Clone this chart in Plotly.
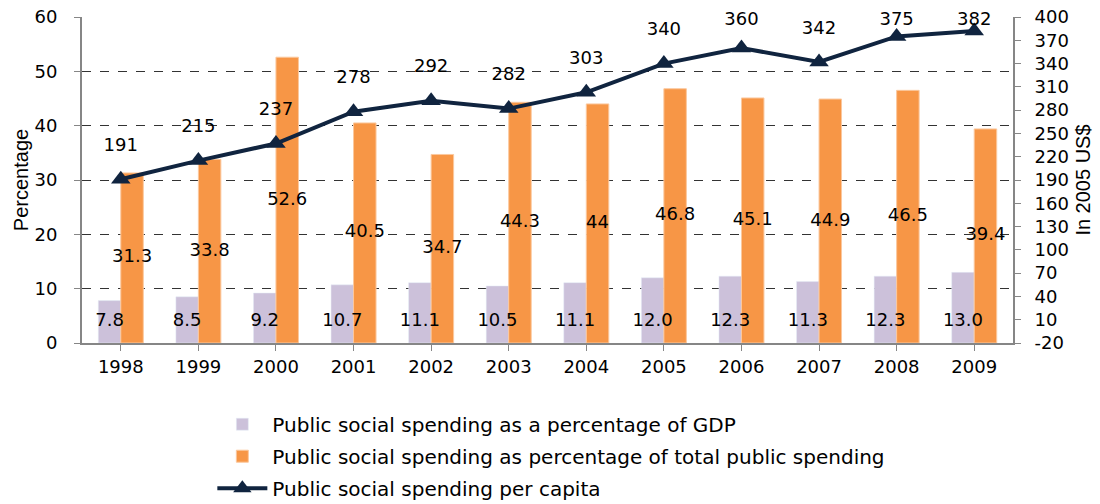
import plotly.graph_objects as go

years = [1998, 1999, 2000, 2001, 2002, 2003, 2004, 2005, 2006, 2007, 2008, 2009]
pct_gdp = [7.8, 8.5, 9.2, 10.7, 11.1, 10.5, 11.1, 12.0, 12.3, 11.3, 12.3, 13.0]
pct_total = [31.3, 33.8, 52.6, 40.5, 34.7, 44.3, 44, 46.8, 45.1, 44.9, 46.5, 39.4]
per_capita = [191, 215, 237, 278, 292, 282, 303, 340, 360, 342, 375, 382]

name_gdp = "Public social spending as a percentage of GDP"
name_total = "Public social spending as percentage of total public spending"
name_capita = "Public social spending per capita"

FONT = "DejaVu Sans, Liberation Sans, Arial, sans-serif"
TFONT = "Liberation Sans, Arial, sans-serif"
FS = 18
bargap = 0.42
half = (1 - bargap) / 4  # half width of one bar in the group

fig = go.Figure()
fig.add_trace(go.Bar(x=years, y=pct_gdp, name=name_gdp, marker_color="#CCC1DA",
                     legendgroup="a"))
fig.add_trace(go.Bar(x=years, y=pct_total, name=name_total, marker_color="#F79646",
                     marker_line=dict(color="#FBC89E", width=1), legendgroup="b"))
fig.add_trace(go.Scatter(x=years, y=per_capita, name=name_capita, yaxis="y2",
                         mode="lines+markers", legendgroup="c",
                         line=dict(color="#10243F", width=4),
                         marker=dict(symbol="triangle-up", size=17, color="#10243F")))

# data labels
lbl = dict(size=FS, color="black", family=FONT)
fig.add_trace(go.Scatter(x=[y - half for y in years], y=[3.9] * len(years),
                         mode="text", text=[f"{v:.1f}" for v in pct_gdp], textfont=lbl,
                         showlegend=False, hoverinfo="skip", cliponaxis=False))
fig.add_trace(go.Scatter(x=[y + half for y in years], y=[v / 2 for v in pct_total],
                         mode="text", text=[f"{v:g}" for v in pct_total], textfont=lbl,
                         showlegend=False, hoverinfo="skip", cliponaxis=False))
fig.add_trace(go.Scatter(x=years, y=[min(v + 42.5, 396) for v in per_capita], yaxis="y2",
                         mode="text", text=[str(v) for v in per_capita], textfont=lbl,
                         showlegend=False, hoverinfo="skip", cliponaxis=False))

axis_common = dict(showline=True, linecolor="#868686", linewidth=2,
                   ticks="outside", ticklen=6, tickcolor="#868686",
                   zeroline=False, automargin=False)

y2_ticks = list(range(-20, 401, 30))

fig.update_layout(
    width=1100, height=504,
    margin=dict(l=82, r=87, t=17, b=161),
    paper_bgcolor="white", plot_bgcolor="white",
    font=dict(family=FONT, size=FS, color="black"),
    barmode="group", bargap=bargap, bargroupgap=0,
    xaxis=dict(tickmode="array", tickvals=years, ticktext=[str(y) for y in years],
               range=[years[0] - 0.5, years[-1] + 0.5],
               tickson="boundaries", showgrid=False, **axis_common),
    yaxis=dict(range=[0, 60], dtick=10, ticklabelstandoff=13,
               title=dict(text="Percentage", standoff=0, font=dict(family=TFONT, size=20)),
               showgrid=True, gridcolor="#333333", griddash="dash", gridwidth=1,
               **axis_common),
    yaxis2=dict(range=[-20, 400], tickvals=y2_ticks, ticktext=[str(v) for v in y2_ticks],
                overlaying="y", side="right", ticklabelstandoff=10,
                title=dict(text="In 2005 US$", standoff=8, font=dict(family=TFONT, size=20)),
                showgrid=False, **axis_common),
    legend=dict(orientation="v", x=0.14, xanchor="left",
                y=0.197, yref="container", yanchor="top",
                font=dict(size=20), tracegroupgap=3, itemwidth=50,
                bgcolor="rgba(0,0,0,0)"),
)

fig.write_html("out.html", config={"displayModeBar": False},
               post_script="document.body.style.margin='0';")
